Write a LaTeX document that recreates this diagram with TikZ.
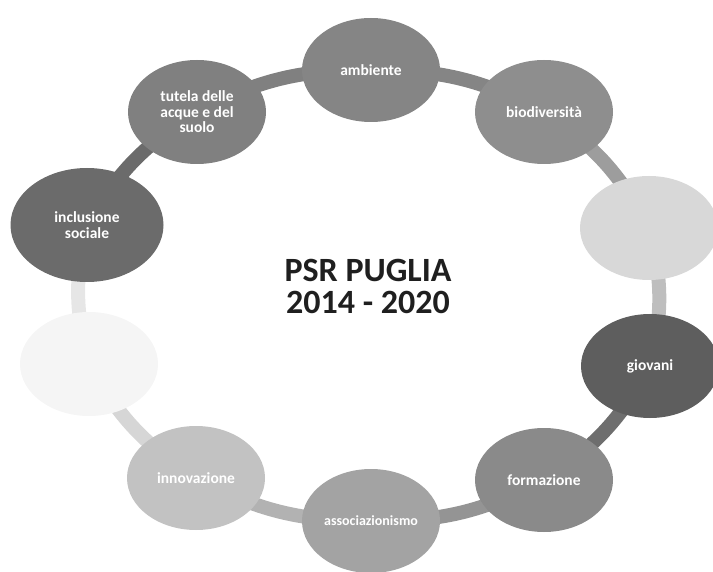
\documentclass[tikz,border=0pt]{standalone}
\usepackage{fontspec}
\setmainfont{Carlito}
\usetikzlibrary{shapes.geometric,backgrounds}
\definecolor{cAmb}{HTML}{858585}
\definecolor{cBio}{HTML}{8E8E8E}
\definecolor{cFadR}{HTML}{D8D8D8}
\definecolor{cGio}{HTML}{5E5E5E}
\definecolor{cForm}{HTML}{8A8A8A}
\definecolor{cAss}{HTML}{A3A3A3}
\definecolor{cInn}{HTML}{C2C2C2}
\definecolor{cFaint}{HTML}{F5F5F5}
\definecolor{cIncl}{HTML}{6B6B6B}
\definecolor{cTut}{HTML}{808080}
\begin{document}
\begin{tikzpicture}[x=1pt,y=-1pt,
  blob/.style={shape=ellipse, minimum width=138pt, minimum height=104pt, inner sep=0pt,
    text=white, align=center, font=\bfseries\fontsize{15.5}{15.5}\selectfont},
  conn/.style={line width=14pt}]
\useasboundingbox (0,0) rectangle (713,572);
\node[blob, fill=cAmb] (amb) at (371,70) {ambiente};
\node[blob, fill=cBio] (bio) at (544,112) {biodiversità};
\node[blob, fill=cFadR] (fadr) at (649,228) {};
\node[blob, fill=cGio] (gio) at (650,366) {giovani};
\node[blob, fill=cForm] (form) at (544,480) {formazione};
\node[blob, fill=cAss, font=\bfseries\fontsize{14}{14}\selectfont] (ass) at (371,521) {associazionismo};
\node[blob, fill=cInn] (inn) at (196,478) {innovazione};
\node[blob, fill=cFaint] (faint) at (89,364) {};
\node[blob, fill=cIncl, minimum width=153pt, minimum height=114pt] (incl) at (87,225) {inclusione\\sociale};
\node[blob, fill=cTut] (tut) at (197,112) {tutela delle\\acque e del\\suolo};
\begin{scope}[on background layer]
\draw[conn, draw=cAmb] (amb.center) to[bend left=14] (bio.center);
\draw[conn, draw=cBio!80!cFadR] (bio.center) to[bend left=14] (fadr.center);
\draw[conn, draw=cFadR!88!black] (fadr.center) to[bend left=14] (gio.center);
\draw[conn, draw=cGio!90!white] (gio.center) to[bend left=14] (form.center);
\draw[conn, draw=cForm!60!cAss] (form.center) to[bend left=14] (ass.center);
\draw[conn, draw=cAss!50!cInn] (ass.center) to[bend left=14] (inn.center);
\draw[conn, draw=cInn!60!cFaint] (inn.center) to[bend left=14] (faint.center);
\draw[conn, draw=cFaint!94!black] (faint.center) to[bend left=14] (incl.center);
\draw[conn, draw=cIncl] (incl.center) to[bend left=14] (tut.center);
\draw[conn, draw=cTut] (tut.center) to[bend left=14] (amb.center);
\end{scope}
\node[font=\bfseries\fontsize{34}{32}\selectfont, align=center, text=black!88] (title) at (368,286) {PSR PUGLIA\\2014 - 2020};
\end{tikzpicture}
\end{document}
